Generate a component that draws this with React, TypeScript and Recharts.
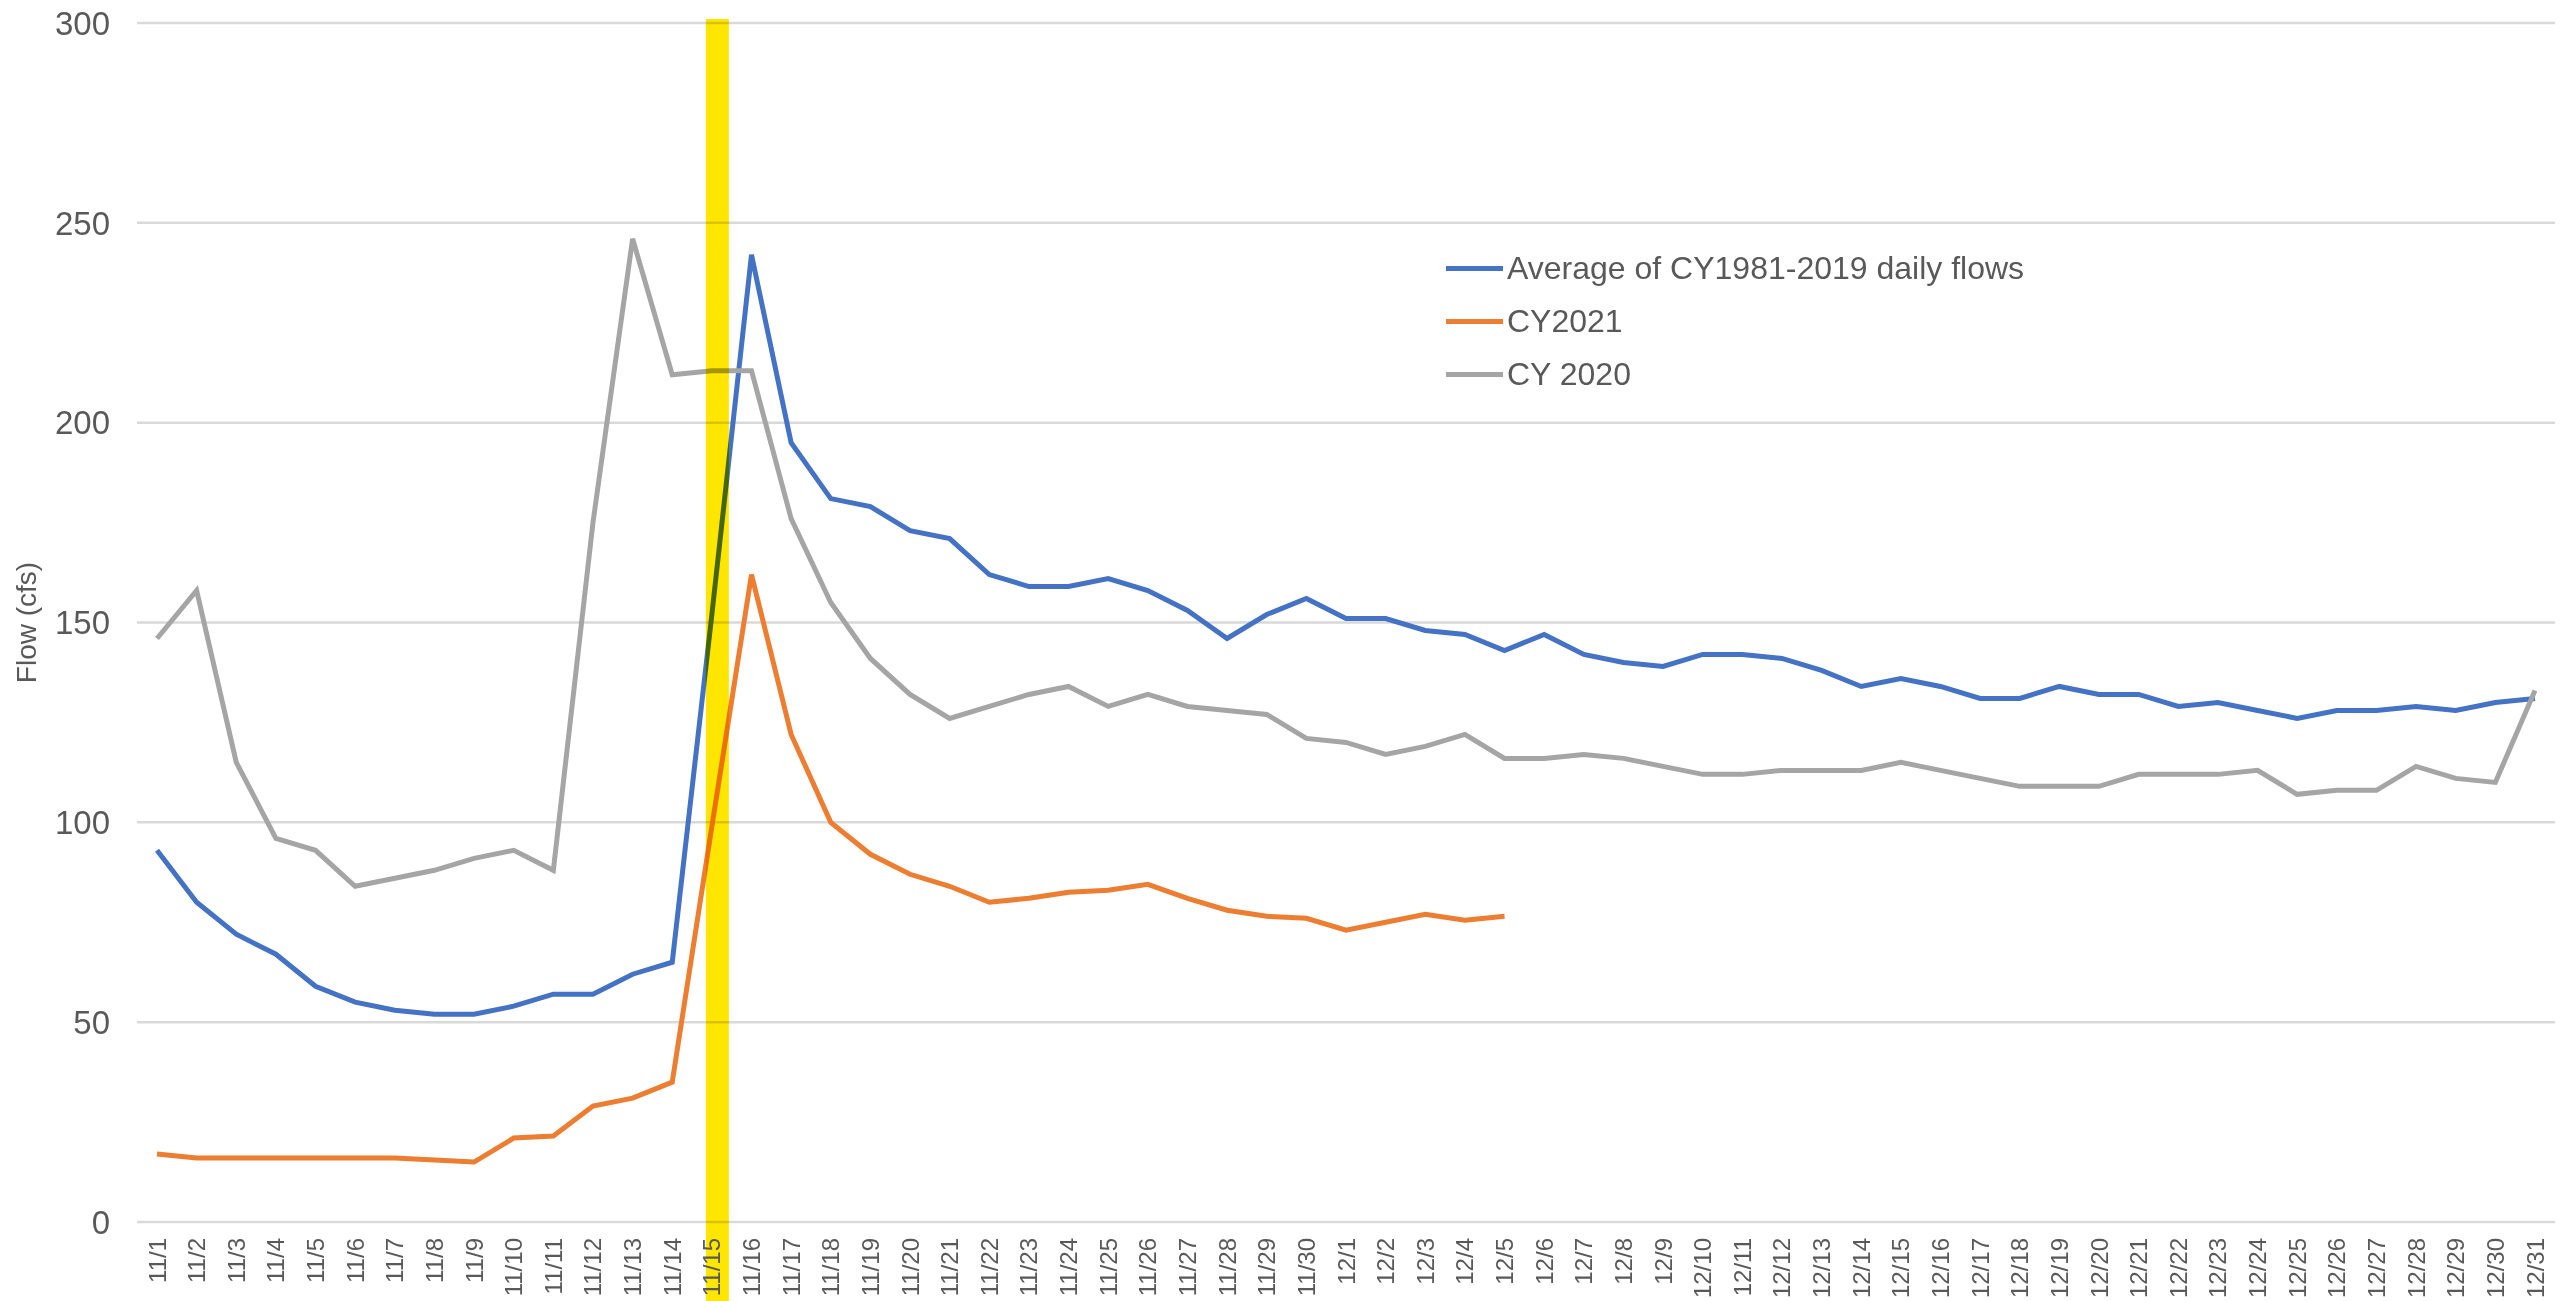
import React from 'react';
import {LineChart, Line, XAxis, YAxis, CartesianGrid, Legend, ReferenceLine} from 'recharts';

const dates = [
  '11/1', '11/2', '11/3', '11/4', '11/5', '11/6', '11/7', '11/8', '11/9', '11/10',
  '11/11', '11/12', '11/13', '11/14', '11/15', '11/16', '11/17', '11/18', '11/19', '11/20',
  '11/21', '11/22', '11/23', '11/24', '11/25', '11/26', '11/27', '11/28', '11/29', '11/30',
  '12/1', '12/2', '12/3', '12/4', '12/5', '12/6', '12/7', '12/8', '12/9', '12/10',
  '12/11', '12/12', '12/13', '12/14', '12/15', '12/16', '12/17', '12/18', '12/19', '12/20',
  '12/21', '12/22', '12/23', '12/24', '12/25', '12/26', '12/27', '12/28', '12/29', '12/30',
  '12/31',
];

// Average of CY1981-2019 daily flows
const avgFlows = [
  93, 80, 72, 67, 59, 55, 53, 52, 52, 54,
  57, 57, 62, 65, 152, 242, 195, 181, 179, 173,
  171, 162, 159, 159, 161, 158, 153, 146, 152, 156,
  151, 151, 148, 147, 143, 147, 142, 140, 139, 142,
  142, 141, 138, 134, 136, 134, 131, 131, 134, 132,
  132, 129, 130, 128, 126, 128, 128, 129, 128, 130,
  131,
];

// CY2021 (ends 12/5)
const cy2021 = [
  17, 16, 16, 16, 16, 16, 16, 15.5, 15, 21,
  21.5, 29, 31, 35, 99, 162, 122, 100, 92, 87,
  84, 80, 81, 82.5, 83, 84.5, 81, 78, 76.5, 76,
  73, 75, 77, 75.5, 76.5,
];

// CY 2020
const cy2020 = [
  146, 158, 115, 96, 93, 84, 86, 88, 91, 93,
  88, 175, 246, 212, 213, 213, 176, 155, 141, 132,
  126, 129, 132, 134, 129, 132, 129, 128, 127, 121,
  120, 117, 119, 122, 116, 116, 117, 116, 114, 112,
  112, 113, 113, 113, 115, 113, 111, 109, 109, 109,
  112, 112, 112, 113, 107, 108, 108, 114, 111, 110,
  133,
];

const seriesNames = ['Average of CY1981-2019 daily flows', 'CY2021', 'CY 2020'];
const yTicks = [0, 50, 100, 150, 200, 250, 300];
const highlightDate = '11/15';

const FONT = '"Liberation Sans", Arial, sans-serif';
const TEXT = '#595959';

const data = dates.map((d, i) => ({
  date: d,
  avg: avgFlows[i],
  cy2021: i < cy2021.length ? cy2021[i] : null,
  cy2020: cy2020[i],
}));

const XTick = ({x, y, payload}: any) => (
  <text
    x={x}
    y={y}
    transform={`rotate(-90, ${x}, ${y})`}
    textAnchor="end"
    dominantBaseline="central"
    fill={TEXT}
    fontSize={24}
    fontFamily={FONT}
  >
    {payload.value}
  </text>
);

// keep the series order, recharts sorts the payload by name
const LegendBox = ({payload}: any) => {
  const items = [...(payload || [])].sort(
    (a: any, b: any) => seriesNames.indexOf(a.value) - seriesNames.indexOf(b.value)
  );
  return (
    <div style={{fontFamily: FONT, fontSize: 32, color: TEXT}}>
      {items.map((item: any) => (
        <div key={item.value} style={{display: 'flex', alignItems: 'center', height: 53}}>
          <div style={{width: 57, height: 5, background: item.color, marginRight: 4}} />
          <span>{item.value}</span>
        </div>
      ))}
    </div>
  );
};

const HighlightBar = (p: any) => {
  const top = Math.min(p.y1, p.y2) - 4;
  return (
    <rect
      x={p.x1 - 6}
      y={top}
      width={23}
      height={1301 - top}
      fill="#FFE600"
      style={{mixBlendMode: 'multiply'}}
    />
  );
};

export default function App() {
  return (
    <div style={{position: 'absolute', left: 0, top: 0, background: '#fff'}}>
      <LineChart width={2560} height={1301} data={data} margin={{top: 23, right: 5, left: 0, bottom: 0}}>
        <CartesianGrid vertical={false} stroke="#D9D9D9" strokeWidth={2.5} />
        <XAxis
          dataKey="date"
          interval={0}
          padding={{left: 20, right: 20}}
          axisLine={false}
          tickLine={false}
          tickSize={0}
          tickMargin={16}
          height={79}
          tick={<XTick />}
        />
        <YAxis
          domain={[0, 300]}
          ticks={yTicks}
          width={137}
          axisLine={false}
          tickLine={false}
          tickSize={0}
          tickMargin={27}
          tick={{fill: TEXT, fontSize: 33, fontFamily: FONT}}
          label={({viewBox}: any) => (
            <text
              x={26}
              y={viewBox.y + viewBox.height / 2}
              transform={`rotate(-90, 26, ${viewBox.y + viewBox.height / 2})`}
              textAnchor="middle"
              dominantBaseline="central"
              fill={TEXT}
              fontSize={28}
              fontFamily={FONT}
            >
              Flow (cfs)
            </text>
          )}
        />
        <Line
          type="linear"
          dataKey="avg"
          name={seriesNames[0]}
          stroke="#4472C4"
          strokeWidth={5}
          dot={false}
          isAnimationActive={false}
        />
        <Line
          type="linear"
          dataKey="cy2021"
          name={seriesNames[1]}
          stroke="#ED7D31"
          strokeWidth={5}
          dot={false}
          isAnimationActive={false}
        />
        <Line
          type="linear"
          dataKey="cy2020"
          name={seriesNames[2]}
          stroke="#A5A5A5"
          strokeWidth={5}
          dot={false}
          isAnimationActive={false}
        />
        <ReferenceLine x={highlightDate} ifOverflow="visible" shape={HighlightBar} />
        <Legend
          layout="vertical"
          verticalAlign="middle"
          align="center"
          content={<LegendBox />}
          wrapperStyle={{left: 1446, top: 242, width: 700}}
        />
      </LineChart>
    </div>
  );
}
